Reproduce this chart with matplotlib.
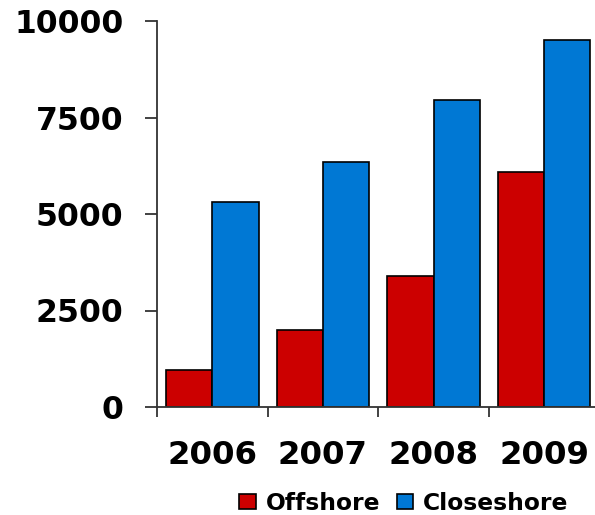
import numpy as np
import matplotlib.pyplot as plt

years = ['2006', '2007', '2008', '2009']
offshore = [960, 2000, 3400, 6100]
closeshore = [5300, 6340, 7950, 9500]

red = '#cc0000'
blue = '#0078d4'

plt.rcParams['font.family'] = 'DejaVu Sans'
plt.rcParams['font.weight'] = 'bold'

fig = plt.figure(figsize=(5.95, 5.15), dpi=100)
ax = fig.add_axes([157 / 595, 108 / 515, 438 / 595, 386 / 515])

x = np.arange(len(years))
w = 0.418
ax.bar(x - w / 2, offshore, w, color=red, edgecolor='black', linewidth=1.2, label='Offshore')
ax.bar(x + w / 2, closeshore, w, color=blue, edgecolor='black', linewidth=1.2, label='Closeshore')

ax.set_ylim(0, 10000)
ax.set_xlim(-0.5, 3.46)
ax.set_yticks([0, 2500, 5000, 7500, 10000])
ax.set_xticks(x)
ax.set_xticklabels(years)
ax.set_xticks(x[:-1] + 0.5, minor=True)
ax.set_xticks(np.r_[-0.5, x[:-1] + 0.5], minor=True)

ax.tick_params(axis='y', length=9, width=1.3, color='#333333', pad=15, labelsize=22.7)
ax.tick_params(axis='x', which='major', length=0, pad=24, labelsize=23.3)
ax.tick_params(axis='x', which='minor', length=7, width=1.3, color='#333333')

for s in ['top', 'right']:
    ax.spines[s].set_visible(False)
for s in ['left', 'bottom']:
    ax.spines[s].set_linewidth(1.3)
    ax.spines[s].set_color('#333333')

fig.legend(loc='center', bbox_to_anchor=(404 / 595, 12 / 515), ncol=2, frameon=False,
           fontsize=16.8, handlelength=0.69, handleheight=0.6, handletextpad=0.43,
           columnspacing=0.73, borderpad=0, borderaxespad=0)

fig.savefig('out.png', dpi=100)
